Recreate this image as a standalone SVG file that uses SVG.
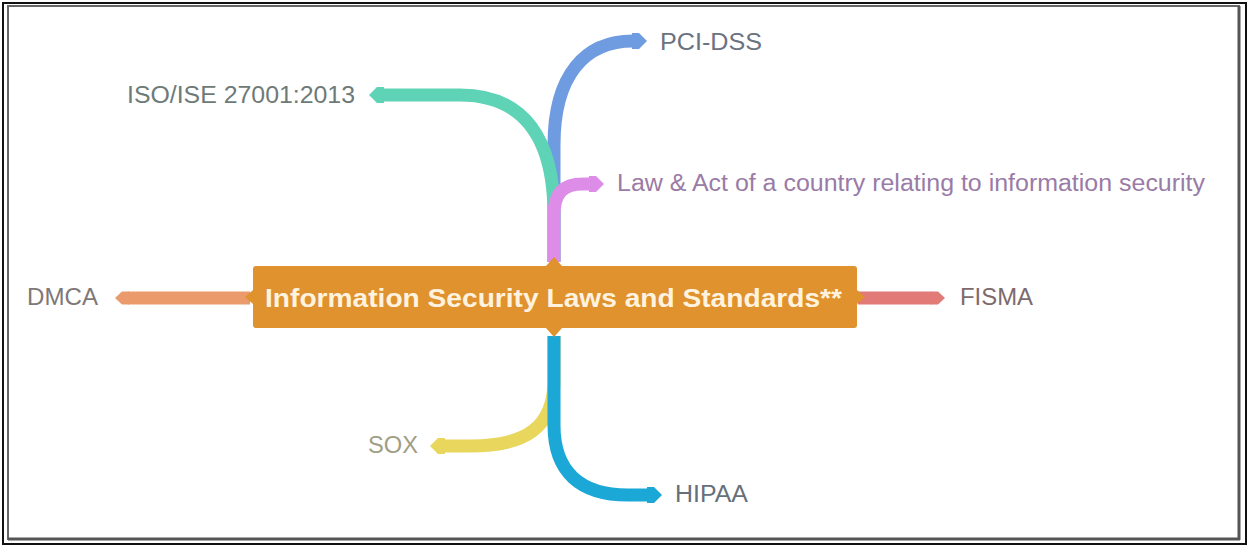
<svg xmlns="http://www.w3.org/2000/svg" width="1249" height="546" viewBox="0 0 1249 546">
<style>
.lbl{font-family:"Liberation Sans",Arial,sans-serif;font-size:23px}
.br{fill:none;stroke-width:13;stroke-linecap:butt}
.ctr{font-family:"Liberation Sans",Arial,sans-serif;font-size:26px;font-weight:bold;fill:#FFF3DF}
</style>
<defs>
<marker id="tDMCA" markerUnits="userSpaceOnUse" markerWidth="18" markerHeight="18" viewBox="0 0 18 18" refX="1" refY="9" orient="auto"><path d="M0,2.5 L7,2.5 L14,9 L7,15.5 L0,15.5 Z" fill="#EB9A6B"/></marker>
<marker id="tFISMA" markerUnits="userSpaceOnUse" markerWidth="18" markerHeight="18" viewBox="0 0 18 18" refX="1" refY="9" orient="auto"><path d="M0,2.5 L7,2.5 L14,9 L7,15.5 L0,15.5 Z" fill="#E27B78"/></marker>
<marker id="tPCI" markerUnits="userSpaceOnUse" markerWidth="18" markerHeight="18" viewBox="0 0 18 18" refX="1" refY="9" orient="auto"><path d="M0,1 L7,1 L15,9 L7,17 L0,17 Z" fill="#6F9BE0"/></marker>
<marker id="tISO" markerUnits="userSpaceOnUse" markerWidth="18" markerHeight="18" viewBox="0 0 18 18" refX="1" refY="9" orient="auto"><path d="M0,1 L7,1 L15,9 L7,17 L0,17 Z" fill="#5FD3B6"/></marker>
<marker id="tLAW" markerUnits="userSpaceOnUse" markerWidth="18" markerHeight="18" viewBox="0 0 18 18" refX="1" refY="9" orient="auto"><path d="M0,1 L7,1 L15,9 L7,17 L0,17 Z" fill="#DD8CE8"/></marker>
<marker id="tSOX" markerUnits="userSpaceOnUse" markerWidth="18" markerHeight="18" viewBox="0 0 18 18" refX="1" refY="9" orient="auto"><path d="M0,1 L7,1 L15,9 L7,17 L0,17 Z" fill="#E9D65C"/></marker>
<marker id="tHIPAA" markerUnits="userSpaceOnUse" markerWidth="18" markerHeight="18" viewBox="0 0 18 18" refX="1" refY="9" orient="auto"><path d="M0,1 L7,1 L15,9 L7,17 L0,17 Z" fill="#1BA8D6"/></marker>
</defs>
<rect x="0" y="0" width="1249" height="546" fill="#ffffff"/>
<g id="frame">
<rect x="3" y="3" width="1243" height="541" fill="none" stroke="#111" stroke-width="2"/>
<rect x="8" y="6" width="1231" height="533" fill="none" stroke="#666" stroke-width="2"/>
<line x1="8" y1="539" x2="1240" y2="539" stroke="#555" stroke-width="3"/>
<line x1="1239" y1="6" x2="1239" y2="540" stroke="#555" stroke-width="3"/>
</g>
<g id="connectors">
<path class="br" stroke="#6F9BE0" d="M554 262 L554 145 C554 75 585 41 633 41" marker-end="url(#tPCI)"/>
<path class="br" stroke="#5FD3B6" d="M554 262 L554 215 C554 140 525 95 460 95 L383 95" stroke-width="14" marker-end="url(#tISO)"/>
<path class="br" stroke="#DD8CE8" d="M554 262 L554 215 C554 193 563 184 583 184 L590 184" marker-end="url(#tLAW)"/>
<path class="br" stroke="#E9D65C" d="M554 336 L554 380 C554 428 525 446 470 446 L444 446" marker-end="url(#tSOX)"/>
<path class="br" stroke="#1BA8D6" d="M554 336 L554 425 C554 472 580 495 628 495 L648 495" stroke-width="14" marker-end="url(#tHIPAA)"/>
<path class="br" stroke="#EB9A6B" d="M250 298 L128 298" stroke-width="11" marker-end="url(#tDMCA)"/>
<path class="br" stroke="#E27B78" d="M858 298 L932 298" stroke-width="11" marker-end="url(#tFISMA)"/>
</g>
<g id="center">
<rect x="253" y="266" width="604" height="62" rx="3" fill="#DF922D"/>
<polygon points="546,266 554,257 562,266" fill="#DF922D"/>
<polygon points="546,328 554,337 562,328" fill="#DF922D"/>
<polygon points="253,290 245,297 253,304" fill="#DF922D"/>
<polygon points="857,290 865,297 857,304" fill="#DF922D"/>
<text class="ctr" x="265" y="307" textLength="577" lengthAdjust="spacingAndGlyphs">Information Security Laws and Standards**</text>
</g>
<g id="n-pci"><text class="lbl" x="660" y="50" fill="#6B7280" textLength="102" lengthAdjust="spacingAndGlyphs">PCI-DSS</text></g>
<g id="n-iso"><text class="lbl" x="127" y="103" fill="#6E7A78" textLength="228" lengthAdjust="spacingAndGlyphs">ISO/ISE 27001:2013</text></g>
<g id="n-law"><text class="lbl" x="617" y="191" fill="#9A7BA6" textLength="588" lengthAdjust="spacingAndGlyphs">Law &amp; Act of a country relating to information security</text></g>
<g id="n-dmca"><text class="lbl" x="27" y="305" fill="#7F7878" textLength="71" lengthAdjust="spacingAndGlyphs">DMCA</text></g>
<g id="n-fisma"><text class="lbl" x="960" y="305" fill="#7E6A6C" textLength="73" lengthAdjust="spacingAndGlyphs">FISMA</text></g>
<g id="n-sox"><text class="lbl" x="368" y="453" fill="#A09E86" textLength="50" lengthAdjust="spacingAndGlyphs">SOX</text></g>
<g id="n-hipaa"><text class="lbl" x="675" y="502" fill="#66707A" textLength="73" lengthAdjust="spacingAndGlyphs">HIPAA</text></g>
</svg>
